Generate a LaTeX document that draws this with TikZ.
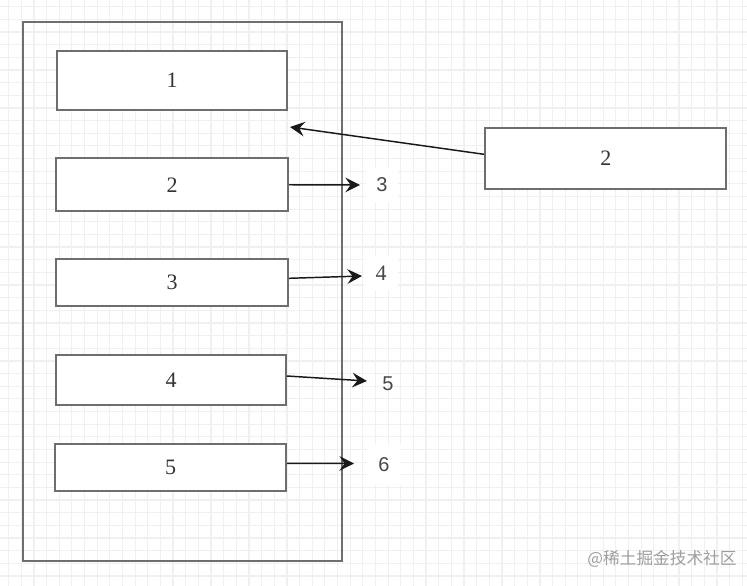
\documentclass[tikz,border=0pt]{standalone}
\usepackage{fontspec}
\setmainfont{Liberation Serif}
\newfontfamily\labsans{Liberation Sans}
\newfontfamily\cjk{Noto Sans CJK SC}
\usetikzlibrary{arrows.meta,calc}
\definecolor{gridc}{HTML}{F0F0F0}
\definecolor{boxc}{HTML}{6E6E6E}
\definecolor{txtc}{HTML}{333333}
\begin{document}
\begin{tikzpicture}[x=0.75pt,y=-0.75pt,
  box/.style={draw=boxc, line width=1.5pt, fill=white, inner sep=0pt, font=\fontsize{16.5}{19}\selectfont, text=txtc},
  conn/.style={draw=black!90, line width=1.1pt, -{Stealth[length=11pt,width=11pt,inset=4pt]}},
  lbl/.style={font=\labsans\fontsize{15}{18}\selectfont, text=txtc!90},
  lbls/.style={font=\fontsize{16.5}{19}\selectfont, text=txtc!90}]
\fill[white] (0,0) rectangle (747,586);
\useasboundingbox (0,0) rectangle (747,586);
\foreach \i in {0,...,58} \draw[gridc, line width=0.9pt] ({8.6+\i*12.65},0) -- ++(0,586);
\foreach \j in {0,...,46} \draw[gridc, line width=0.9pt] (0,{6.7+\j*12.65}) -- ++(747,0);
% outer container
\node[draw=boxc, line width=1.5pt, inner sep=0pt, minimum width=239.25pt, minimum height=404pt] (outer) at (182,291.6) {};
% inner boxes
\node[box, minimum width=172.5pt, minimum height=44.25pt] (b1) at (172,80.5) {1};
\node[box, minimum width=174pt, minimum height=39.4pt] (b2) at (172,184.75) {2};
\node[box, minimum width=174pt, minimum height=35.25pt] (b3) at (172,282.5) {3};
\node[box, minimum width=172.5pt, minimum height=37.5pt] (b4) at (171,380) {4};
\node[box, minimum width=173.25pt, minimum height=35.25pt] (b5) at (170.5,467.5) {5};
% right box
\node[box, minimum width=181.1pt, minimum height=45.75pt] (rb) at (605.75,158) {2};
% outside labels
\node[lbl, fill=white, minimum width=24pt, minimum height=26pt] (l3) at (382,185) {3};
\node[lbls, fill=white, minimum width=26pt, minimum height=26pt] (l4) at (381,273) {4};
\node[lbl] (l5) at (388,384) {5};
\node[lbl, fill=white, minimum width=26pt, minimum height=30pt] (l6) at (384,465) {6};
% arrow tips
\coordinate (t0) at (290,127);
\coordinate (t2) at (360,185);
\coordinate (t3) at (362,276);
\coordinate (t4) at (367,381);
\coordinate (t5) at (354,463.5);
\draw[conn] ($(rb.west)+(0,-3.7)$) -- (t0);
\draw[conn] (b2.east) -- (t2);
\draw[conn] ($(b3.east)+(0,-4.2)$) -- (t3);
\draw[conn] ($(b4.east)+(0,-4)$) -- (t4);
\draw[conn] ($(b5.east)+(0,-4.2)$) -- (t5);
% watermark
\node[font=\cjk\fontsize{12.5}{15}\selectfont, text=black!38] (wm) at (662,559) {@稀土掘金技术社区};
\end{tikzpicture}
\end{document}
